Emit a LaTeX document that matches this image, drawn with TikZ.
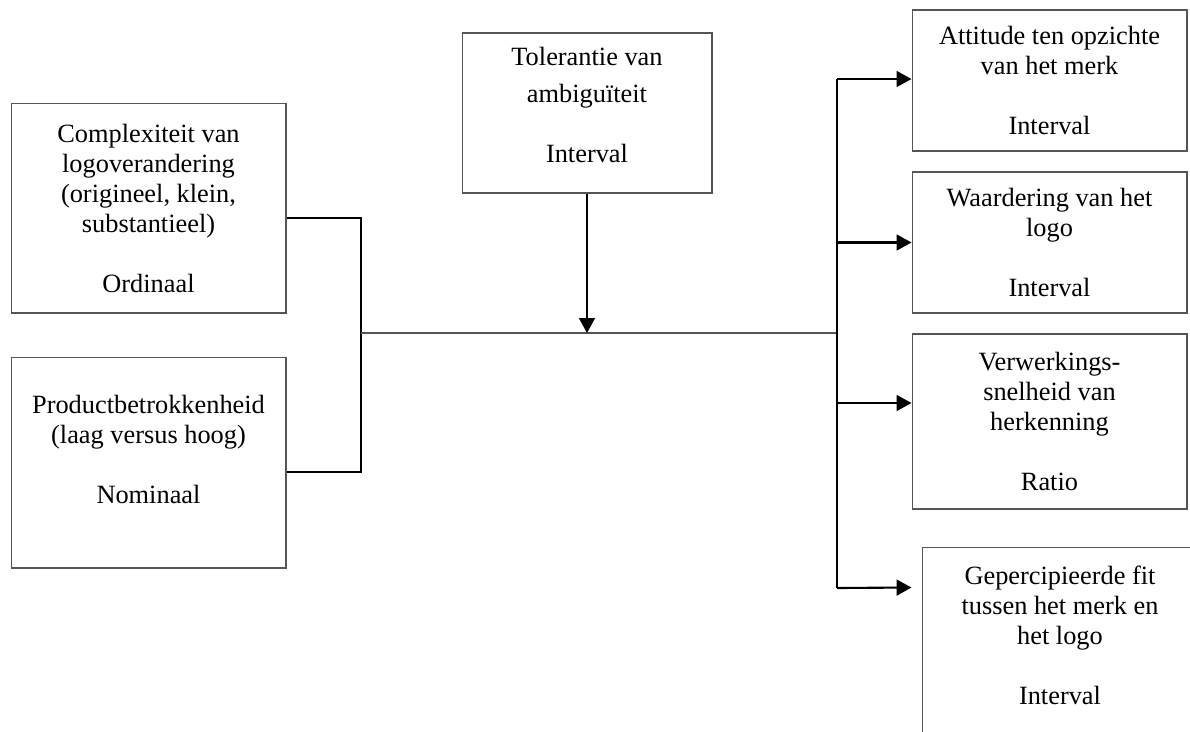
\documentclass[tikz,border=0pt]{standalone}
\usepackage{fontspec}
\setmainfont{Liberation Serif}
\usetikzlibrary{arrows.meta,calc}
\definecolor{boxgray}{HTML}{555555}

\begin{document}
\begin{tikzpicture}[x=0.02cm,y=-0.02cm,
  varbox/.style={draw=boxgray,line width=0.6pt,align=center,inner sep=0pt,
    font=\fontsize{15}{17.1}\selectfont,minimum width=5.5cm},
  conn/.style={line width=1.2pt,black},
  arr/.style={conn,-{Triangle[length=8.5pt,width=9pt]}}]
  \useasboundingbox (0,0) rectangle (1190,731);
  \clip (0,0) rectangle (1190,731);
  \node[varbox,minimum height=4.2cm] (cmp) at (148.5,208)
    {Complexiteit van\\logoverandering\\(origineel, klein,\\substantieel)\\[17pt]Ordinaal};
  \node[varbox,minimum height=4.22cm] (prod) at (148.5,462.5)
    {Productbetrokkenheid\\(laag versus hoog)\\[17pt]Nominaal\\[-2pt]\mbox{}};
  \node[varbox,minimum width=5cm,minimum height=3.2cm] (tol) at (587,113)
    {Tolerantie van\\[4pt]ambiguïteit\\[17pt]Interval\\[-8pt]\mbox{}};
  \node[varbox,minimum height=2.82cm] (att) at (1049.5,80.5)
    {Attitude ten opzichte\\van het merk\\[17pt]Interval};
  \node[varbox,minimum height=2.82cm] (waa) at (1049.5,242.5)
    {Waardering van het\\logo\\[17pt]Interval};
  \node[varbox,minimum height=3.5cm] (ver) at (1049.5,421.5)
    {Verwerkings-\\snelheid van\\herkenning\\[17pt]Ratio};
  \node[varbox,minimum width=5.52cm,minimum height=3.8cm] (gep) at (1060,642)
    {Gepercipieerde fit\\tussen het merk en\\het logo\\[17pt]Interval\\[-9pt]\mbox{}};
  \coordinate (j) at (361,333);
  \coordinate (bus) at (837,333);
  \coordinate (bustop) at (837,79);
  \coordinate (busbot) at (837,588);
  \coordinate (gepin) at ($(gep.north west)+(-10,41)$);
  \draw[conn] ($(cmp.east)+(0,10)$) -| (j) |- ($(prod.east)+(0,9.5)$);
  \draw[boxgray,line width=0.6pt] (j) -- (bus);
  \draw[arr] (tol.south) -- (tol.south |- j);
  \draw[conn] (bustop) -- (busbot);
  \draw[arr] (bustop) -- (bustop -| att.west);
  \draw[arr] (waa.west -| bus) -- (waa.west);
  \draw[arr] ($(ver.west -| bus)+(0,-18.5)$) -- ($(ver.west)+(0,-18.5)$);
  \draw[arr] (busbot) -- (gepin);
\end{tikzpicture}
\end{document}
